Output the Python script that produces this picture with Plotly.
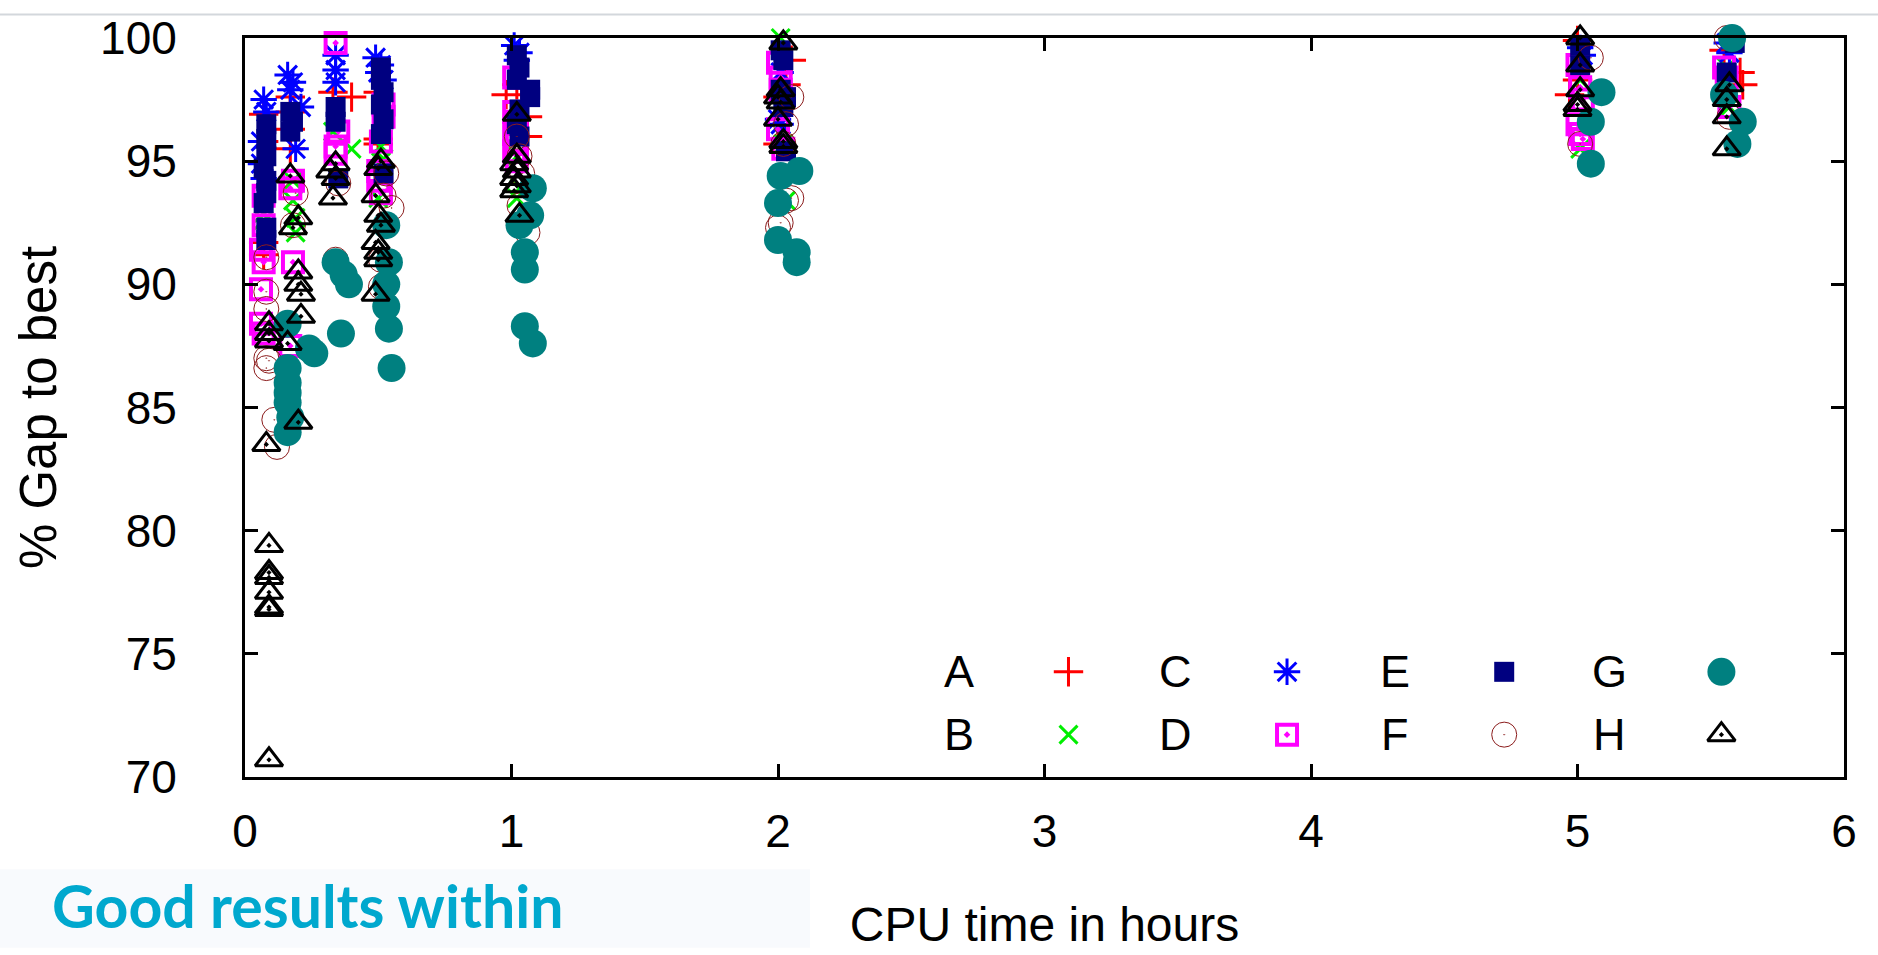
import plotly.graph_objects as go

# ---------------- data (CPU hours, % gap to best) ----------------
A_x = [0.07, 0.07, 0.07, 0.07, 0.17, 0.17, 0.17, 0.17, 0.33, 0.40, 0.50, 0.50, 0.50,
       1.02, 0.98, 1.05, 1.06, 1.06, 2.05, 2.03, 2.00, 2.00, 5.00, 5.00, 4.97, 5.55, 5.61, 5.62]
A_y = [96.9, 95.8, 91.7, 91.2, 97.6, 97.0, 96.3, 95.5, 97.8, 97.6, 97.8, 95.9, 95.7,
       98.1, 97.7, 97.3, 96.8, 96.0, 99.1, 98.1, 97.6, 95.7, 99.9, 98.3, 97.7, 99.5, 98.6, 98.1]

B_x = [0.07, 0.07, 0.18, 0.18, 0.19, 0.19, 0.33, 0.40, 0.51, 0.52, 0.50,
       1.02, 1.03, 1.02, 2.01, 2.01, 2.02, 2.03, 5.01, 5.01, 5.56, 5.57]
B_y = [92.9, 92.6, 94.2, 93.4, 92.7, 92.1, 96.2, 95.5, 95.6, 95.1, 93.5,
       95.2, 93.9, 93.5, 100.0, 97.2, 95.7, 93.4, 98.3, 95.5, 98.8, 97.2]

C_x = [0.07, 0.08, 0.06, 0.06, 0.07, 0.16, 0.18, 0.17, 0.21, 0.19,
       0.34, 0.34, 0.34, 0.49, 0.51, 0.50, 0.52, 1.01, 1.03, 1.02,
       2.01, 2.00, 2.01, 5.01, 5.02, 5.56, 5.57]
C_y = [97.5, 97.0, 95.8, 94.9, 94.3, 98.5, 98.2, 97.9, 97.2, 95.5,
       99.3, 98.7, 98.2, 99.2, 98.9, 98.6, 98.3, 99.7, 99.4, 99.1,
       98.6, 96.7, 96.5, 99.6, 99.3, 99.8, 99.4]

D_x = [0.07, 0.07, 0.06, 0.07, 0.06, 0.06, 0.07, 0.18, 0.17, 0.18, 0.17,
       0.34, 0.35, 0.34, 0.34, 0.52, 0.52, 0.51, 0.50, 0.50, 0.51,
       1.01, 1.01, 1.02, 1.01, 1.02, 1.01, 1.02, 2.00, 2.01, 2.01, 2.00, 2.02,
       5.00, 5.01, 5.02, 5.00, 5.01, 5.02, 5.55, 5.56, 5.57]
D_y = [93.6, 92.4, 91.4, 90.9, 89.8, 88.4, 88.0, 94.2, 93.9, 90.9, 87.5,
       99.8, 96.2, 95.6, 95.3, 97.3, 96.8, 95.8, 94.6, 94.2, 93.7,
       98.4, 97.0, 96.6, 96.1, 95.7, 95.4, 95.0, 99.0, 98.4, 97.9, 96.3, 95.5,
       98.9, 98.0, 97.5, 96.5, 96.1, 95.9, 98.8, 98.4, 97.2]

E_x = [0.08, 0.08, 0.08, 0.07, 0.08, 0.08, 0.07, 0.08, 0.08, 0.17, 0.18, 0.17,
       0.34, 0.34, 0.35, 0.51, 0.51, 0.52, 0.51, 0.52, 0.51, 0.52,
       1.02, 1.03, 1.02, 1.07, 1.07, 1.03, 1.02, 1.03,
       2.01, 2.02, 2.01, 2.03, 2.02, 2.03, 5.01, 5.01, 5.59, 5.56]
E_y = [96.5, 95.9, 95.2, 94.7, 94.2, 93.7, 93.3, 92.3, 91.8, 97.0, 96.6, 96.2,
       97.2, 96.6, 94.3, 98.8, 98.3, 97.8, 97.3, 96.7, 96.1, 94.5,
       99.3, 98.8, 98.3, 97.9, 97.6, 97.1, 96.5, 96.0,
       99.5, 99.1, 97.9, 97.6, 97.2, 95.4, 99.7, 98.9, 99.8, 98.6]

F_x = [0.08, 0.08, 0.08, 0.08, 0.09, 0.08, 0.11, 0.12, 0.19, 0.18,
       0.35, 0.34, 0.53, 0.52, 0.55, 0.51, 0.51,
       1.02, 1.03, 1.04, 1.03, 1.06, 2.05, 2.03, 2.02, 2.05, 2.03, 2.01, 2.00,
       5.05, 5.01, 5.56, 5.57]
F_y = [91.1, 89.7, 89.0, 87.0, 86.9, 86.6, 84.5, 83.4, 93.7, 92.4,
       94.1, 91.0, 94.5, 93.6, 93.1, 91.0, 89.9,
       96.0, 95.2, 94.5, 93.2, 92.1, 97.6, 96.5, 95.7, 93.5, 93.4, 92.5, 92.3,
       99.2, 95.7, 100.0, 96.8]

G_x = [0.16, 0.24, 0.26, 0.16, 0.16, 0.16, 0.16, 0.17, 0.16,
       0.34, 0.37, 0.39, 0.36, 0.53, 0.54, 0.53, 0.53, 0.54, 0.55,
       1.08, 1.07, 1.03, 1.05, 1.05, 1.05, 1.08,
       2.08, 2.01, 2.00, 2.00, 2.07, 2.07, 5.09, 5.05, 5.05,
       5.58, 5.55, 5.62, 5.60]
G_y = [88.4, 87.4, 87.2, 86.6, 86.0, 85.6, 85.2, 84.6, 84.0,
       90.9, 90.4, 90.0, 88.0, 92.4, 90.9, 90.0, 89.1, 88.2, 86.6,
       93.9, 92.8, 92.4, 91.3, 90.6, 88.3, 87.6,
       94.6, 94.4, 93.3, 91.8, 91.3, 90.9, 97.8, 96.6, 94.9,
       100.0, 97.7, 96.6, 95.7]

H_x = [0.09, 0.09, 0.09, 0.08, 0.09, 0.09, 0.09, 0.09, 0.09, 0.09, 0.09,
       0.17, 0.20, 0.18, 0.20, 0.20, 0.21, 0.21, 0.16, 0.20,
       0.34, 0.32, 0.34, 0.33, 0.51, 0.50, 0.49, 0.50, 0.51, 0.49, 0.50, 0.50, 0.49,
       1.02, 1.02, 1.01, 1.02, 1.01, 1.02, 1.01, 1.03,
       2.02, 2.01, 2.00, 2.01, 2.00, 2.02, 2.02,
       5.01, 5.01, 5.01, 5.00, 5.00, 5.57, 5.56, 5.56, 5.56]
H_y = [88.4, 88.0, 87.7, 83.5, 79.4, 78.3, 78.1, 77.5, 76.9, 76.8, 70.7,
       94.4, 92.7, 92.3, 90.5, 90.0, 89.6, 88.7, 87.6, 84.4,
       94.9, 94.6, 94.3, 93.5, 95.0, 94.7, 93.6, 92.8, 92.4, 91.7, 91.3, 91.0, 89.6,
       96.9, 95.2, 94.9, 94.6, 94.3, 94.0, 93.8, 92.8,
       99.8, 97.9, 97.6, 97.4, 96.7, 95.8, 95.6,
       100.0, 98.9, 97.9, 97.3, 97.1, 98.1, 97.5, 96.8, 95.5]

series_names = ["A", "B", "C", "D", "E", "F", "G", "H"]
x_ticks = [0, 1, 2, 3, 4, 5, 6]
y_ticks = [70, 75, 80, 85, 90, 95, 100]

# ---------------- styles ----------------
styles = {
    "A": dict(symbol="cross-thin-open", color="#FF0000", size=21, line=dict(width=3, color="#FF0000")),
    "B": dict(symbol="x-thin-open", color="#00EE00", size=18, line=dict(width=3, color="#00EE00")),
    "C": dict(symbol="asterisk-open", color="#0000FF", size=22, line=dict(width=3, color="#0000FF")),
    "D": dict(symbol="square-open-dot", color="#FF00FF", size=20, line=dict(width=4, color="#FF00FF")),
    "E": dict(symbol="square", color="#000080", size=20, line=dict(width=0)),
    "F": dict(symbol="circle-open-dot", color="#8B1C1C", size=25, line=dict(width=1, color="#8B1C1C")),
    "G": dict(symbol="circle", color="#008080", size=28, line=dict(width=0)),
    "H": dict(symbol="triangle-up-open-dot", color="#000000", size=24, line=dict(width=3, color="#000000")),
}
data = {"A": (A_x, A_y), "B": (B_x, B_y), "C": (C_x, C_y), "D": (D_x, D_y),
        "E": (E_x, E_y), "F": (F_x, F_y), "G": (G_x, G_y), "H": (H_x, H_y)}

# legend layout (in axis units): letter x, symbol x, row y
legend_cols = {"A": (2.68, 3.09, 74.27), "B": (2.68, 3.09, 71.72),
               "C": (3.49, 3.91, 74.27), "D": (3.49, 3.91, 71.72),
               "E": (4.315, 4.725, 74.27), "F": (4.315, 4.725, 71.72),
               "G": (5.12, 5.54, 74.27), "H": (5.12, 5.54, 71.72)}

FONT = "Liberation Sans, Arial, sans-serif"

fig = go.Figure()
for name in series_names:
    xs, ys = data[name]
    fig.add_trace(go.Scatter(x=xs, y=ys, mode="markers", name=name, marker=styles[name],
                             cliponaxis=False, showlegend=False))

annotations = []
for name in series_names:
    lx, sx, ly = legend_cols[name]
    fig.add_trace(go.Scatter(x=[sx], y=[ly], mode="markers", marker=styles[name],
                             showlegend=False, hoverinfo="skip", cliponaxis=False))
    annotations.append(dict(x=lx, y=ly, xref="x", yref="y", text=name, showarrow=False,
                            font=dict(family=FONT, size=45, color="black"),
                            xanchor="center", yanchor="middle"))

W, H = 1878, 955
L, R, T, B = 245, 34, 28, 174
pw, ph = W - L - R, H - T - B

annotations.append(dict(x=(50 - L) / pw, y=-(912 - (H - B)) / ph, xref="paper", yref="paper",
                        text="<b>Good results within</b>", showarrow=False,
                        font=dict(family="Lato, sans-serif", size=59, color="#00A8CE"),
                        xanchor="left", yanchor="middle"))

shapes = [
    dict(type="rect", xref="paper", yref="paper", x0=-L / pw, x1=(810 - L) / pw,
         y0=-(H - (H - B)) / ph, y1=-(875 - (H - B)) / ph,
         fillcolor="#F8FAFD", line=dict(width=0), layer="below"),
    dict(type="line", xref="paper", yref="paper", x0=-L / pw, x1=1 + R / pw,
         y0=1 + (T - 4) / ph, y1=1 + (T - 4) / ph, line=dict(color="#D3D7DC", width=2)),
]

axis_common = dict(showline=True, linewidth=3, linecolor="black", mirror="ticks",
                   ticks="inside", ticklen=13, tickwidth=3, tickcolor="black",
                   showgrid=False, zeroline=False,
                   tickfont=dict(family=FONT, size=46, color="black"))

fig.update_layout(
    width=W, height=H, margin=dict(l=L, r=R, t=T, b=B, pad=0),
    paper_bgcolor="white", plot_bgcolor="white",
    xaxis=dict(range=[0, 6], tickvals=x_ticks, ticklabelstandoff=12,
               title=dict(text="CPU time in hours", font=dict(family=FONT, size=48, color="black"),
                          standoff=52),
               **axis_common),
    yaxis=dict(range=[70, 100], tickvals=y_ticks, ticklabelstandoff=56,
               title=dict(text="% Gap to best", font=dict(family=FONT, size=51, color="black"),
                          standoff=28),
               **axis_common),
    annotations=annotations, shapes=shapes, showlegend=False,
)

fig.write_html("out.html")
